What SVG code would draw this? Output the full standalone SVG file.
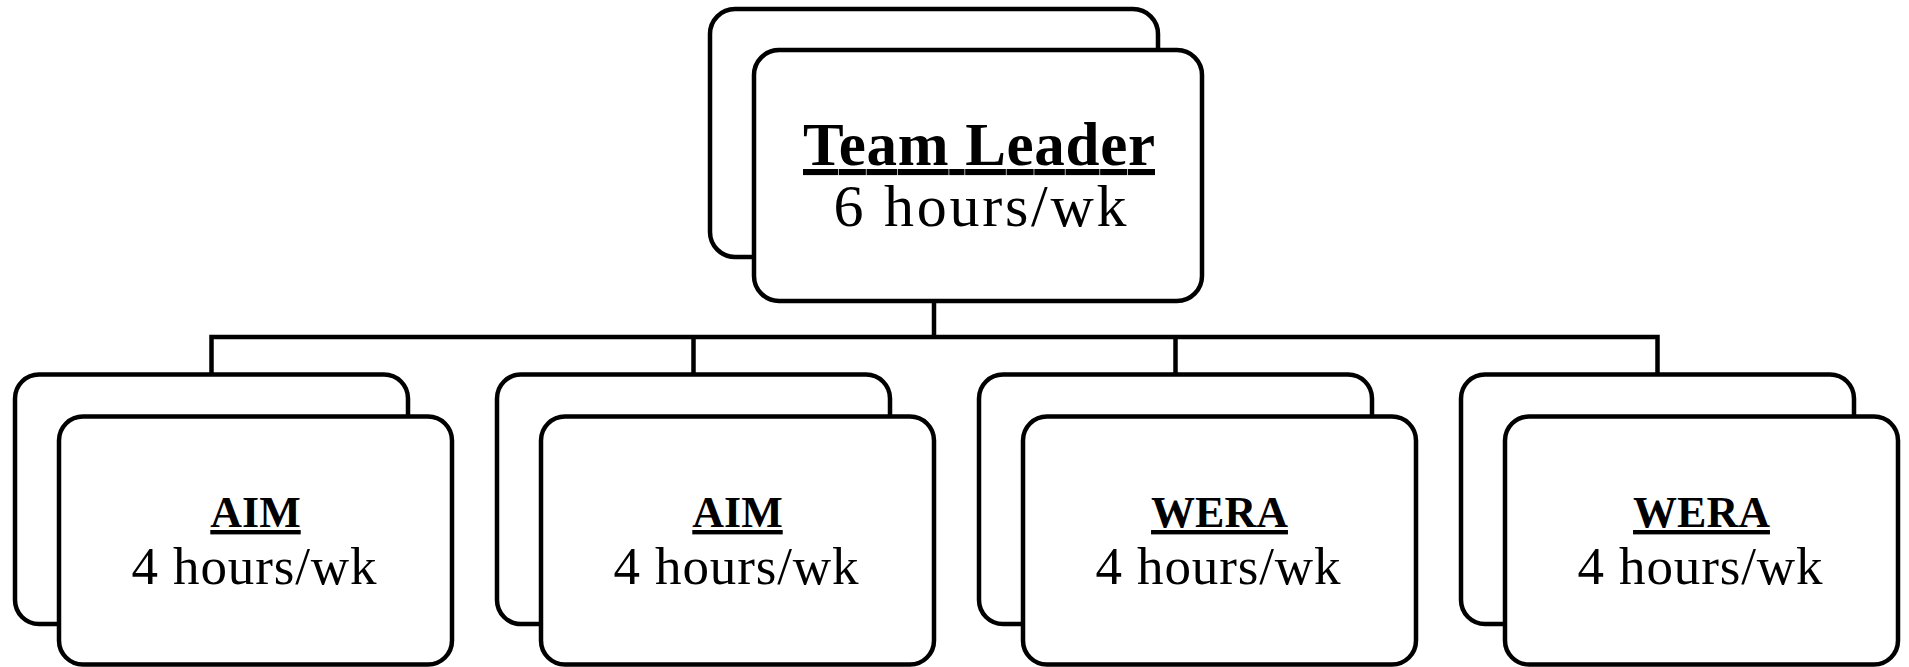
<svg xmlns="http://www.w3.org/2000/svg" width="1909" height="667" viewBox="0 0 1909 667">
  <style>
    .card { fill: #ffffff; stroke: #000000; stroke-width: 4.5; }
    .wire { fill: none; stroke: #000000; stroke-width: 4.5; stroke-linecap: butt; stroke-linejoin: miter; }
    .title { font-family: "Liberation Serif", "Times New Roman", serif; font-weight: bold; text-decoration: underline; text-anchor: middle; fill: #000000; }
    .hours { font-family: "Liberation Serif", "Times New Roman", serif; text-anchor: middle; fill: #000000; }
    .t-top { font-size: 61px; }
    .h-top { font-size: 60px; }
    .t-sub { font-size: 44px; }
    .h-sub { font-size: 53px; }
  </style>

  <!-- tree connectors -->
  <g id="connectors">
    <path class="wire" d="M934 301 V337"/>
    <path class="wire" d="M211.5 375 V337 H1657.5 V375"/>
    <path class="wire" d="M693.5 337 V375"/>
    <path class="wire" d="M1175.5 337 V375"/>
  </g>

  <!-- top: team leader -->
  <g id="team-leader">
    <rect class="card" x="710" y="9" width="448" height="248" rx="25" ry="25"/>
    <rect class="card" x="754" y="50" width="448" height="251" rx="25" ry="25"/>
    <text class="title t-top" x="979" y="165" textLength="352" lengthAdjust="spacing">Team Leader</text>
    <text class="hours h-top" x="980" y="226" textLength="293" lengthAdjust="spacing">6 hours/wk</text>
  </g>

  <!-- second row -->
  <g id="aim-1">
    <rect class="card" x="15" y="374.5" width="393" height="249.5" rx="24" ry="24"/>
    <rect class="card" x="59" y="416.5" width="393" height="248" rx="24" ry="24"/>
    <text class="title t-sub" x="255.5" y="527">AIM</text>
    <text class="hours h-sub" x="254" y="584" textLength="245" lengthAdjust="spacing">4 hours/wk</text>
  </g>

  <g id="aim-2">
    <rect class="card" x="497" y="374.5" width="393" height="249.5" rx="24" ry="24"/>
    <rect class="card" x="541" y="416.5" width="393" height="248" rx="24" ry="24"/>
    <text class="title t-sub" x="737.5" y="527">AIM</text>
    <text class="hours h-sub" x="736" y="584" textLength="245" lengthAdjust="spacing">4 hours/wk</text>
  </g>

  <g id="wera-1">
    <rect class="card" x="979" y="374.5" width="393" height="249.5" rx="24" ry="24"/>
    <rect class="card" x="1023" y="416.5" width="393" height="248" rx="24" ry="24"/>
    <text class="title t-sub" x="1219.5" y="527">WERA</text>
    <text class="hours h-sub" x="1218" y="584" textLength="245" lengthAdjust="spacing">4 hours/wk</text>
  </g>

  <g id="wera-2">
    <rect class="card" x="1461" y="374.5" width="393" height="249.5" rx="24" ry="24"/>
    <rect class="card" x="1505" y="416.5" width="393" height="248" rx="24" ry="24"/>
    <text class="title t-sub" x="1701.5" y="527">WERA</text>
    <text class="hours h-sub" x="1700" y="584" textLength="245" lengthAdjust="spacing">4 hours/wk</text>
  </g>
</svg>
